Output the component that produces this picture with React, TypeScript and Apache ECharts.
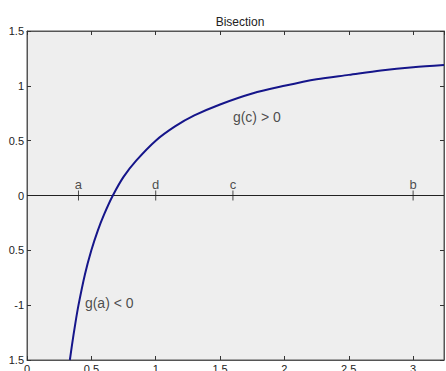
import React, { useEffect, useRef } from "react";
import * as echarts from "echarts";

const curveX = [0.333, 0.35, 0.375, 0.4, 0.45, 0.5, 0.55, 0.6, 0.667, 0.75, 0.85, 1.0, 1.15, 1.3, 1.5, 1.75, 2.0, 2.25, 2.5, 2.75, 3.0, 3.24];
const curveY = [-1.5, -1.36, -1.17, -1.0, -0.72, -0.5, -0.32, -0.17, 0, 0.17, 0.32, 0.5, 0.63, 0.73, 0.83, 0.93, 1.0, 1.06, 1.1, 1.14, 1.17, 1.19];
const markerNames = ["a", "d", "c", "b"];
const markerX = [0.4, 1.0, 1.6, 3.0];
const notes = ["g(c) > 0", "g(a) < 0"];
const noteX = [1.6, 0.45];
const noteY = [0.72, -0.98];
const xTickLabels: Record<string, string> = { "0": "0", "0.5": "0.5", "1": "1", "1.5": "1.5", "2": "2", "2.5": "2.5", "3": "3" };
const yTickLabels: Record<string, string> = { "-1.5": "1.5", "-1": "-1", "-0.5": "0.5", "0": "0", "0.5": "0.5", "1": "1", "1.5": "1.5" };

const FONT = "Liberation Sans, Arial, sans-serif";

export default function App() {
  const ref = useRef<HTMLDivElement>(null);
  useEffect(() => {
    if (!ref.current) return;
    const chart = echarts.init(ref.current, undefined, { renderer: "svg" });
    const axisLine = { show: true, onZero: false, lineStyle: { color: "#555", width: 1 } };
    const tick = { show: true, inside: true, length: 4, lineStyle: { color: "#333" } };
    chart.setOption({
      animation: false,
      backgroundColor: "#fff",
      title: {
        text: "Bisection",
        left: 235,
        textAlign: "center",
        top: 11,
        textStyle: { fontFamily: FONT, fontSize: 12, fontWeight: "normal", color: "#222" },
      },
      grid: {
        left: 27, right: 2, top: 31, bottom: 11, show: true,
        containLabel: false, outerBoundsMode: "none",
        backgroundColor: "#eeeeee", borderColor: "#555", borderWidth: 1,
      },
      xAxis: [
        {
          type: "value", min: 0, max: 3.24, interval: 0.5, position: "bottom",
          axisLine, axisTick: tick, splitLine: { show: false },
          axisLabel: { showMaxLabel: false, margin: 3, fontFamily: FONT, fontSize: 11, color: "#222", formatter: (v: number) => xTickLabels[String(v)] ?? "" },
        },
        {
          type: "value", min: 0, max: 3.24, interval: 0.5, position: "top",
          axisLine, axisTick: tick, splitLine: { show: false }, axisLabel: { show: false },
        },
      ],
      yAxis: [
        {
          type: "value", min: -1.5, max: 1.5, interval: 0.5, position: "left",
          axisLine, axisTick: tick, splitLine: { show: false },
          axisLabel: { margin: 3, fontFamily: FONT, fontSize: 11, color: "#222", formatter: (v: number) => yTickLabels[String(v)] ?? "" },
        },
        {
          type: "value", min: -1.5, max: 1.5, interval: 0.5, position: "right",
          axisLine, axisTick: tick, splitLine: { show: false }, axisLabel: { show: false },
        },
      ],
      series: [
        {
          type: "line",
          data: [[0, 0], [3.24, 0]],
          symbol: "none",
          lineStyle: { color: "#222", width: 1 },
          silent: true,
          z: 2,
        },
        {
          type: "line",
          data: curveX.map((x, i) => [x, curveY[i]]),
          symbol: "none",
          smooth: 0.3,
          lineStyle: { color: "#15158a", width: 2 },
          z: 3,
        },
        {
          type: "scatter",
          data: markerX.map((x, i) => ({ value: [x, 0], name: markerNames[i] })),
          symbol: "rect",
          symbolSize: [1, 10],
          itemStyle: { color: "#222" },
          label: {
            show: true, position: "top", distance: 0, formatter: (p: any) => p.name,
            fontFamily: FONT, fontSize: 13, color: "#222",
          },
          z: 4,
        },
        {
          type: "scatter",
          data: noteX.map((x, i) => ({ value: [x, noteY[i]], name: notes[i] })),
          symbolSize: 0,
          label: {
            show: true, position: "right", distance: 0, formatter: (p: any) => p.name,
            fontFamily: FONT, fontSize: 14, color: "#222",
          },
          z: 4,
        },
      ],
    });
    return () => chart.dispose();
  }, []);
  return <div ref={ref} style={{ position: "absolute", left: 0, top: 0, width: 446, height: 371 }} />;
}
